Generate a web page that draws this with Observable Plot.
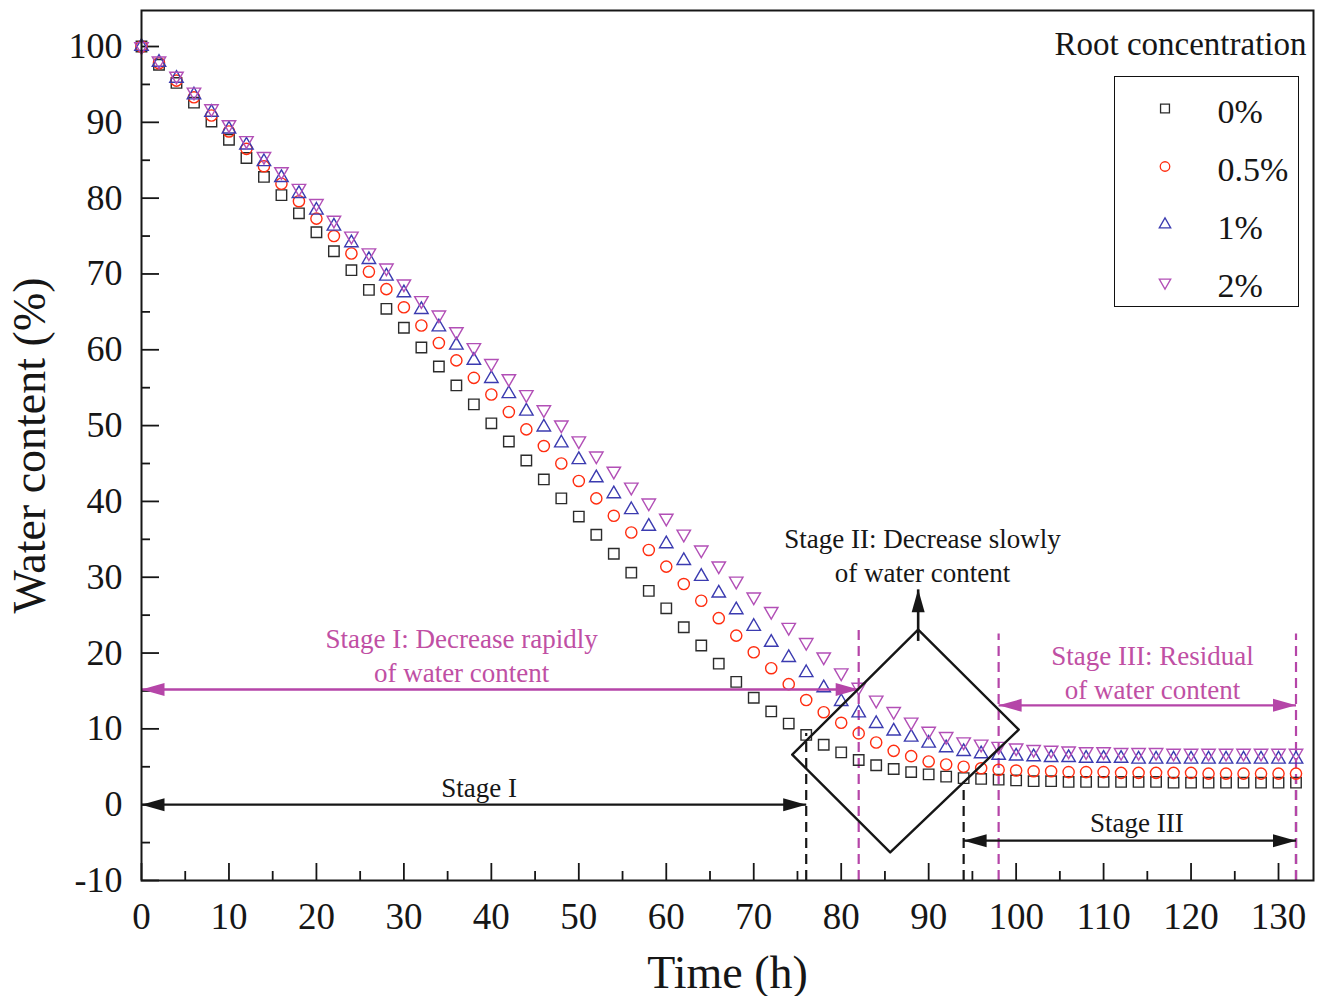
<!DOCTYPE html>
<html><head><meta charset="utf-8">
<script src="https://cdn.jsdelivr.net/npm/d3@7"></script>
<script src="https://cdn.jsdelivr.net/npm/@observablehq/plot@0.6"></script>
<style>
html,body{margin:0;padding:0;background:#fff;}
#wrap{position:relative;width:1325px;height:996px;}
#legend{position:absolute;left:1114px;top:76px;width:185px;height:231px;border:1.5px solid #111;box-sizing:border-box;background:#fff;}
#legend svg{display:block;}
</style></head>
<body><div id="wrap"><div id="legend"></div></div>
<script>
// ---------- data ----------
const time = [0,2,4,6,8,10,12,14,16,18,20,22,24,26,28,30,32,34,36,38,40,42,44,46,48,50,52,54,56,58,60,62,64,66,68,70,72,74,76,78,80,82,84,86,88,90,92,94,96,98,100,102,104,106,108,110,112,114,116,118,120,122,124,126,128,130,132];
const wc0  = [100,97.6,95.2,92.6,90.1,87.7,85.3,82.8,80.4,78.0,75.5,73.0,70.5,67.9,65.4,62.9,60.3,57.8,55.3,52.8,50.3,47.9,45.4,42.9,40.4,38.0,35.6,33.1,30.6,28.2,25.9,23.4,21.0,18.6,16.2,14.1,12.3,10.7,9.2,7.9,6.9,5.9,5.2,4.7,4.3,4.0,3.7,3.5,3.4,3.3,3.2,3.1,3.1,3.0,3.0,3.0,3.0,3.0,3.0,2.9,2.9,2.9,2.9,2.9,2.9,2.9,2.9];
const wc05 = [100,97.8,95.5,93.3,90.9,88.8,86.5,84.2,81.9,79.6,77.3,75.0,72.7,70.3,68.0,65.6,63.2,60.9,58.6,56.3,54.1,51.8,49.5,47.3,45.0,42.7,40.4,38.1,35.9,33.6,31.4,29.1,26.9,24.6,22.3,20.1,18.0,15.9,13.8,12.2,10.8,9.4,8.2,7.1,6.4,5.7,5.3,5.0,4.8,4.6,4.5,4.4,4.4,4.3,4.3,4.3,4.2,4.2,4.2,4.2,4.2,4.1,4.1,4.1,4.1,4.1,4.1];
const wc1  = [100,97.9,95.8,93.6,91.3,89.1,87.0,84.8,82.7,80.6,78.4,76.3,74.1,71.9,69.7,67.5,65.3,63.0,60.6,58.6,56.2,54.2,51.9,49.8,47.7,45.5,43.1,41.0,38.9,36.7,34.4,32.2,30.1,27.9,25.7,23.5,21.4,19.4,17.4,15.4,13.6,12.1,10.7,9.7,8.9,8.1,7.5,7.0,6.7,6.5,6.4,6.3,6.2,6.2,6.1,6.1,6.1,6.0,6.0,6.0,6.0,6.0,6.0,6.0,6.0,6.0,6.0];
const wc2  = [100,98.1,96.1,94.0,91.8,89.7,87.6,85.5,83.5,81.3,79.3,77.1,75.0,72.8,70.8,68.7,66.5,64.6,62.4,60.3,58.2,56.2,54.1,52.1,50.1,48.0,46.0,44.0,41.9,39.8,37.8,35.7,33.6,31.5,29.5,27.4,25.5,23.4,21.4,19.5,17.4,15.5,13.8,12.3,10.9,9.7,9.0,8.3,8.0,7.7,7.5,7.3,7.2,7.1,7.0,7.0,6.9,6.9,6.9,6.8,6.8,6.8,6.8,6.8,6.8,6.8,6.8];
const seriesNames = ["0%","0.5%","1%","2%"];

const xTicks = [0,10,20,30,40,50,60,70,80,90,100,110,120,130];
const xMinor = [5,15,25,35,45,55,65,75,85,95,105,115,125];
const yTicks = [-10,0,10,20,30,40,50,60,70,80,90,100];
const yMinor = [-5,5,15,25,35,45,55,65,75,85,95];

// annotations (data coordinates)
const magentaArrows = [{x1:0, x2:82, y:15.2}, {x1:98, x2:132, y:13.1}];
const blackArrows   = [{x1:0, x2:76, y:0}, {x1:94, x2:132, y:-4.75}];
const magentaDashes = [{x:82, y1:-10, y2:23.0}, {x:98, y1:-10, y2:22.5}, {x:132, y1:-10, y2:22.5}];
const blackDashes   = [{x:76, y1:-10, y2:9.4}, {x:94, y1:-10, y2:3.0}, {x:132, y1:-10, y2:3.2}];
const diamondX = [74.4, 88.8, 100.3, 85.6, 74.4];
const diamondY = [6.6, 23.1, 9.9, -6.3, 6.6];
const upArrow = {x:88.8, y1:21.6, y2:28.4};
const magentaLabels = [
  {x:36.6, y:19.8, text:"Stage I: Decrease rapidly\nof water content"},
  {x:115.6, y:17.6, text:"Stage III: Residual\nof water content"}
];
const blackLabels = [
  {x:89.3, y:33.1, text:"Stage II: Decrease slowly\nof water content"},
  {x:38.6, y:2.5, text:"Stage I"},
  {x:113.8, y:-2.2, text:"Stage III"}
];

// ---------- styling ----------
const FONT = "Liberation Serif, Times New Roman, serif";
const MAG_LINE = "#b545a8", MAG_TEXT = "#c04fa4", INK = "#161616";
const triDown = {draw(ctx, size){
  const y = -Math.sqrt(size / (Math.sqrt(3) * 3));
  ctx.moveTo(0, -y * 2); ctx.lineTo(-Math.sqrt(3) * y, y); ctx.lineTo(Math.sqrt(3) * y, y); ctx.closePath();
}};
const headSym = {draw(ctx){ ctx.moveTo(0,0); ctx.lineTo(-23,-6.5); ctx.lineTo(-23,6.5); ctx.closePath(); }};
const seriesStyle = [
  {values: wc0,  symbol: "square",   stroke: "#2b2b2b", r: 5.9},
  {values: wc05, symbol: "circle",   stroke: "#ff2d10", r: 5.6},
  {values: wc1,  symbol: "triangle", stroke: "#3b3bb0", r: 5.0},
  {values: wc2,  symbol: triDown,    stroke: "#b24fb6", r: 5.0}
];

const pts = (vals) => time.map((t, i) => ({t, v: vals[i]}));
const heads = (arr) => arr.flatMap(a => [{x:a.x1, y:a.y, rot:180}, {x:a.x2, y:a.y, rot:0}]);
const diamond = diamondX.map((x, i) => ({x, y: diamondY[i]}));

const chart = Plot.plot({
  width: 1325, height: 996,
  marginLeft: 141, marginRight: 12, marginTop: 10, marginBottom: 116,
  x: {domain: [0, 134]},
  y: {domain: [-10, 104.75]},
  style: {fontFamily: FONT, background: "#fff", overflow: "visible"},
  marks: [
    // ticks (inward)
    Plot.tickX(xTicks, {x: d => d, insetTop: 853, stroke: INK, strokeWidth: 1.8}),
    Plot.tickX(xMinor, {x: d => d, insetTop: 861, stroke: INK, strokeWidth: 1.8}),
    Plot.tickY(yTicks, {y: d => d, insetRight: 1154, stroke: INK, strokeWidth: 1.8}),
    Plot.tickY(yMinor, {y: d => d, insetRight: 1163, stroke: INK, strokeWidth: 1.8}),
    Plot.axisX(xTicks, {tickSize: 0, tickPadding: 22, fontSize: 37, fontFamily: FONT, fill: INK, label: null, tickFormat: d => String(d)}),
    Plot.axisY(yTicks, {tickSize: 0, tickPadding: 19, fontSize: 36, fontFamily: FONT, fill: INK, label: null, tickFormat: d => String(d)}),
    Plot.text(["Time (h)"], {frameAnchor: "bottom", textAnchor: "middle", lineAnchor: "middle", dy: 93, fontSize: 46, fontFamily: FONT, fill: INK}),
    Plot.text(["Water content (%)"], {frameAnchor: "left", textAnchor: "middle", lineAnchor: "middle", dx: -111, rotate: -90, fontSize: 46, fontFamily: FONT, fill: INK}),
    Plot.text(["Root concentration"], {frameAnchor: "top-right", textAnchor: "end", lineAnchor: "middle", dx: -7, dy: 34, fontSize: 33, fontFamily: FONT, fill: INK}),
    // dashed verticals
    Plot.ruleX(blackDashes, {x: "x", y1: "y1", y2: "y2", stroke: INK, strokeWidth: 2.2, strokeDasharray: "10,6"}),
    Plot.ruleX(magentaDashes, {x: "x", y1: "y1", y2: "y2", stroke: MAG_LINE, strokeWidth: 2.2, strokeDasharray: "10,6"}),
    // data
    ...seriesStyle.map(s => Plot.dot(pts(s.values), {x: "t", y: "v", symbol: s.symbol, r: s.r, fill: "none", stroke: s.stroke, strokeWidth: 1.4})),
    // range arrows
    Plot.link(magentaArrows, {x1: "x1", x2: "x2", y1: "y", y2: "y", stroke: MAG_LINE, strokeWidth: 2.4}),
    Plot.dot(heads(magentaArrows), {x: "x", y: "y", rotate: "rot", symbol: headSym, fill: MAG_LINE, stroke: "none"}),
    Plot.link(blackArrows, {x1: "x1", x2: "x2", y1: "y", y2: "y", stroke: INK, strokeWidth: 2.2}),
    Plot.dot(heads(blackArrows), {x: "x", y: "y", rotate: "rot", symbol: headSym, fill: INK, stroke: "none"}),
    // diamond and up arrow
    Plot.line(diamond, {x: "x", y: "y", stroke: INK, strokeWidth: 2.4}),
    Plot.link([upArrow], {x1: "x", x2: "x", y1: "y1", y2: "y2", stroke: INK, strokeWidth: 2.6}),
    Plot.dot([upArrow], {x: "x", y: "y2", rotate: -90, symbol: headSym, fill: INK, stroke: "none"}),
    // labels
    Plot.text(magentaLabels, {x: "x", y: "y", text: "text", fill: MAG_TEXT, fontSize: 27, lineHeight: 1.26, fontFamily: FONT}),
    Plot.text(blackLabels, {x: "x", y: "y", text: "text", fill: INK, fontSize: 27, lineHeight: 1.26, fontFamily: FONT}),
    Plot.frame({stroke: INK, strokeWidth: 2})
  ]
});
document.getElementById("wrap").prepend(chart);

// legend
const legend = Plot.plot({
  width: 182, height: 228,
  marginLeft: 0, marginRight: 0, marginTop: 30.5, marginBottom: 22.5,
  y: {type: "point", domain: seriesNames, padding: 0, axis: null},
  style: {fontFamily: FONT, background: "#fff"},
  marks: [
    ...seriesStyle.map((s, i) => Plot.dot([seriesNames[i]], {y: d => d, frameAnchor: "left", dx: 49.5, symbol: s.symbol, r: s.r * 0.85, fill: "none", stroke: s.stroke, strokeWidth: 1.3})),
    Plot.text(seriesNames, {y: d => d, text: d => d, frameAnchor: "left", dx: 102, dy: 4, textAnchor: "start", lineAnchor: "middle", fontSize: 34, fontFamily: FONT, fill: INK})
  ]
});
document.getElementById("legend").appendChild(legend);
</script>
</body></html>
